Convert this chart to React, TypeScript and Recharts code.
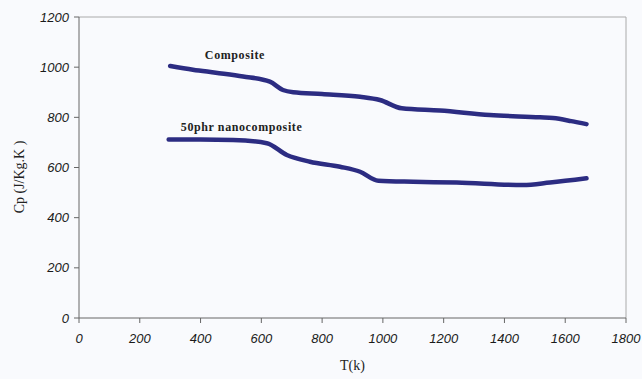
import React from 'react';
import { LineChart, Line, XAxis, YAxis, ReferenceLine, ReferenceDot } from 'recharts';

const compositeT = [300, 375, 450, 540, 628, 671, 705, 800, 925, 990, 1062, 1188, 1352, 1517, 1560, 1620, 1670];
const compositeCp = [1005, 990, 978, 963, 942, 909, 900, 893, 882, 869, 836, 827, 809, 800, 797, 785, 773];

const nanoT = [295, 400, 507, 618, 684, 760, 859, 925, 985, 1100, 1243, 1461, 1550, 1670];
const nanoCp = [712, 712, 710, 697, 650, 623, 603, 583, 547, 543, 540, 530, 540, 557];

const xTicks = [0, 200, 400, 600, 800, 1000, 1200, 1400, 1600, 1800];
const yTicks = [0, 200, 400, 600, 800, 1000, 1200];

const composite = compositeT.map((t, i) => ({ t, cp: compositeCp[i] }));
const nano = nanoT.map((t, i) => ({ t, cp: nanoCp[i] }));

const LINE = '#2c2c82';
const SANS = '"Liberation Sans", Arial, sans-serif';
const SERIF = '"Liberation Serif", "Times New Roman", serif';

const XTick = (props: any) => (
  <text x={props.x} y={props.y + 18} textAnchor="middle" fontFamily={SANS} fontStyle="italic" fontSize={13} fill="#1a1a1a">
    {props.payload.value}
  </text>
);

const YTick = (props: any) => (
  <text x={props.x - 3} y={props.y} textAnchor="end" dominantBaseline="central" fontFamily={SANS} fontStyle="italic" fontSize={13} fill="#1a1a1a">
    {props.payload.value}
  </text>
);

const XTitle = (props: any) => {
  const { viewBox } = props;
  return (
    <text x={viewBox.x + viewBox.width / 2} y={365} textAnchor="middle" dominantBaseline="central" fontFamily={SERIF} fontSize={14} fill="#222">
      T(k)
    </text>
  );
};

const YTitle = () => {
  const cx = 19;
  const cy = 177;
  return (
    <text x={cx} y={cy} transform={`rotate(-90 ${cx} ${cy})`} textAnchor="middle" dominantBaseline="central" fontFamily={SERIF} fontSize={14} fill="#222">
      Cp (J/Kg.K )
    </text>
  );
};

const SeriesLabel = (props: any) => {
  const { viewBox, value } = props;
  return (
    <text
      x={viewBox.x}
      y={viewBox.y}
      textAnchor="middle"
      dominantBaseline="central"
      fontFamily={SERIF}
      fontWeight="bold"
      fontSize={12}
      letterSpacing={0.6}
      fill="#222"
    >
      {value}
    </text>
  );
};

export default function App() {
  return (
    <div style={{ position: 'absolute', left: 0, top: 0, width: 642, height: 379, background: '#f9fafd' }}>
      <LineChart width={642} height={379} margin={{ top: 17, right: 16, bottom: 21, left: 0 }}>
        <XAxis
          type="number"
          dataKey="t"
          domain={[0, 1800]}
          ticks={xTicks}
          tick={<XTick />}
          tickLine={{ stroke: '#666' }}
          axisLine={{ stroke: '#666' }}
          tickSize={5}
          height={40}
          allowDataOverflow
          label={<XTitle />}
        />
        <YAxis
          type="number"
          dataKey="cp"
          domain={[0, 1200]}
          ticks={yTicks}
          tick={<YTick />}
          tickLine={{ stroke: '#666' }}
          axisLine={{ stroke: '#666' }}
          tickSize={5}
          width={79}
          allowDataOverflow
          label={<YTitle />}
        />
        <ReferenceLine y={1200} stroke="#aaa" strokeWidth={1} />
        <ReferenceLine x={1800} stroke="#aaa" strokeWidth={1} />
        <Line data={composite} dataKey="cp" type="monotone" stroke={LINE} strokeWidth={4.5} strokeLinecap="round" dot={false} isAnimationActive={false} />
        <Line data={nano} dataKey="cp" type="monotone" stroke={LINE} strokeWidth={4.5} strokeLinecap="round" dot={false} isAnimationActive={false} />
        <ReferenceDot x={513} y={1049} r={0} stroke="none" label={<SeriesLabel value="Composite" />} />
        <ReferenceDot x={535} y={762} r={0} stroke="none" label={<SeriesLabel value="50phr nanocomposite" />} />
      </LineChart>
    </div>
  );
}
